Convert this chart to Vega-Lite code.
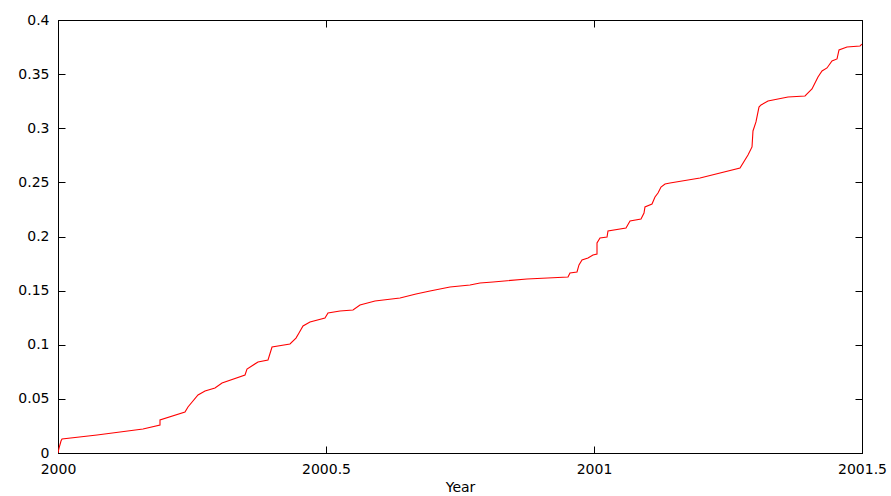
{
  "$schema": "https://vega.github.io/schema/vega-lite/v6.json",
  "width": 804,
  "height": 433,
  "autosize": {"type": "none"},
  "padding": {"left": 58, "top": 20, "right": 29, "bottom": 43},
  "background": "white",
  "config": {
    "view": {"stroke": "black", "strokeWidth": 1},
    "axis": {
      "labelFont": "DejaVu Sans",
      "labelFontSize": 14,
      "labelColor": "black",
      "titleFont": "DejaVu Sans",
      "titleFontSize": 14,
      "titleFontWeight": "normal",
      "titleColor": "black",
      "domainColor": "black",
      "tickColor": "black",
      "grid": false,
      "tickSize": -7,
      "labelPadding": 16,
      "labelFlush": false,
      "labelOverlap": false
    }
  },
  "data": {
    "values": [
      {"year": 2000.0000, "value": 0.0000},
      {"year": 2000.0019, "value": 0.0046},
      {"year": 2000.0056, "value": 0.0111},
      {"year": 2000.0075, "value": 0.0129},
      {"year": 2000.0728, "value": 0.0166},
      {"year": 2000.1586, "value": 0.0222},
      {"year": 2000.1903, "value": 0.0259},
      {"year": 2000.1903, "value": 0.0305},
      {"year": 2000.2369, "value": 0.0379},
      {"year": 2000.2425, "value": 0.0425},
      {"year": 2000.2612, "value": 0.0536},
      {"year": 2000.2743, "value": 0.0573},
      {"year": 2000.2929, "value": 0.0600},
      {"year": 2000.3060, "value": 0.0647},
      {"year": 2000.3489, "value": 0.0721},
      {"year": 2000.3526, "value": 0.0776},
      {"year": 2000.3731, "value": 0.0841},
      {"year": 2000.3918, "value": 0.0859},
      {"year": 2000.3993, "value": 0.0979},
      {"year": 2000.4328, "value": 0.1007},
      {"year": 2000.4440, "value": 0.1062},
      {"year": 2000.4496, "value": 0.1109},
      {"year": 2000.4571, "value": 0.1173},
      {"year": 2000.4701, "value": 0.1210},
      {"year": 2000.4981, "value": 0.1247},
      {"year": 2000.5037, "value": 0.1293},
      {"year": 2000.5261, "value": 0.1312},
      {"year": 2000.5504, "value": 0.1321},
      {"year": 2000.5634, "value": 0.1367},
      {"year": 2000.5914, "value": 0.1404},
      {"year": 2000.6381, "value": 0.1432},
      {"year": 2000.6679, "value": 0.1469},
      {"year": 2000.6940, "value": 0.1497},
      {"year": 2000.7313, "value": 0.1533},
      {"year": 2000.7687, "value": 0.1552},
      {"year": 2000.7873, "value": 0.1570},
      {"year": 2000.8116, "value": 0.1580},
      {"year": 2000.8750, "value": 0.1607},
      {"year": 2000.9515, "value": 0.1626},
      {"year": 2000.9552, "value": 0.1663},
      {"year": 2000.9683, "value": 0.1672},
      {"year": 2000.9720, "value": 0.1737},
      {"year": 2000.9776, "value": 0.1783},
      {"year": 2000.9888, "value": 0.1801},
      {"year": 2000.9981, "value": 0.1829},
      {"year": 2001.0056, "value": 0.1838},
      {"year": 2001.0056, "value": 0.1940},
      {"year": 2001.0112, "value": 0.1986},
      {"year": 2001.0243, "value": 0.1995},
      {"year": 2001.0261, "value": 0.2051},
      {"year": 2001.0597, "value": 0.2079},
      {"year": 2001.0672, "value": 0.2143},
      {"year": 2001.0877, "value": 0.2162},
      {"year": 2001.0933, "value": 0.2217},
      {"year": 2001.0951, "value": 0.2273},
      {"year": 2001.1082, "value": 0.2300},
      {"year": 2001.1138, "value": 0.2365},
      {"year": 2001.1194, "value": 0.2402},
      {"year": 2001.1250, "value": 0.2457},
      {"year": 2001.1325, "value": 0.2485},
      {"year": 2001.1418, "value": 0.2494},
      {"year": 2001.1978, "value": 0.2540},
      {"year": 2001.2724, "value": 0.2633},
      {"year": 2001.2873, "value": 0.2753},
      {"year": 2001.2948, "value": 0.2827},
      {"year": 2001.2966, "value": 0.2975},
      {"year": 2001.3022, "value": 0.3058},
      {"year": 2001.3078, "value": 0.3196},
      {"year": 2001.3116, "value": 0.3215},
      {"year": 2001.3246, "value": 0.3252},
      {"year": 2001.3619, "value": 0.3289},
      {"year": 2001.3937, "value": 0.3298},
      {"year": 2001.3993, "value": 0.3326},
      {"year": 2001.4067, "value": 0.3363},
      {"year": 2001.4179, "value": 0.3473},
      {"year": 2001.4254, "value": 0.3529},
      {"year": 2001.4347, "value": 0.3557},
      {"year": 2001.4440, "value": 0.3621},
      {"year": 2001.4534, "value": 0.3640},
      {"year": 2001.4571, "value": 0.3723},
      {"year": 2001.4720, "value": 0.3751},
      {"year": 2001.4963, "value": 0.3760},
      {"year": 2001.5000, "value": 0.3778}
    ]
  },
  "layer": [
    {
      "mark": {"type": "line", "color": "#ff0000", "strokeWidth": 1.1, "clip": true},
      "encoding": {
        "x": {
          "field": "year", "type": "quantitative",
          "scale": {"domain": [2000, 2001.5], "nice": false, "zero": false},
          "axis": {"title": "Year", "values": [2000, 2000.5, 2001, 2001.5], "format": "~g", "titlePadding": 4}
        },
        "y": {
          "field": "value", "type": "quantitative",
          "scale": {"domain": [0, 0.4], "nice": false},
          "axis": {"title": null, "values": [0, 0.05, 0.1, 0.15, 0.2, 0.25, 0.3, 0.35, 0.4], "format": "~g"}
        },
        "order": {"field": "year", "type": "quantitative"}
      }
    },
    {
      "mark": {"type": "line", "opacity": 0},
      "encoding": {
        "x": {
          "field": "year", "type": "quantitative",
          "axis": {"orient": "top", "title": null, "labels": false, "values": [2000, 2000.5, 2001, 2001.5]}
        },
        "y": {
          "field": "value", "type": "quantitative",
          "axis": {"orient": "right", "title": null, "labels": false, "values": [0, 0.05, 0.1, 0.15, 0.2, 0.25, 0.3, 0.35, 0.4]}
        }
      }
    }
  ],
  "resolve": {"axis": {"x": "independent", "y": "independent"}}
}
